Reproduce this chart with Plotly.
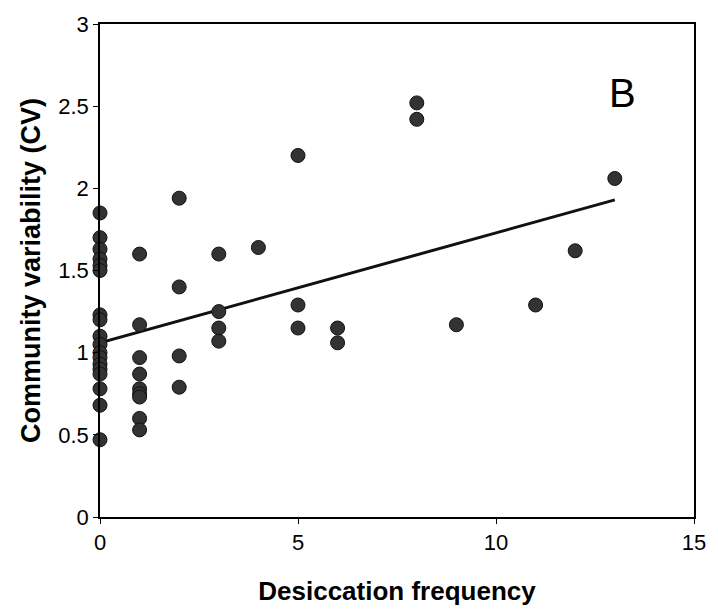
import plotly.graph_objects as go

# Data
x0_vals = [0]*18
y0_vals = [1.85, 1.70, 1.63, 1.57, 1.53, 1.50, 1.23, 1.20, 1.10, 1.05, 1.00, 0.97, 0.93, 0.90, 0.87, 0.78, 0.68, 0.47]
x1_vals = [1]*9
y1_vals = [1.60, 1.17, 0.97, 0.87, 0.78, 0.75, 0.73, 0.60, 0.53]
x_rest = [2, 2, 2, 2, 3, 3, 3, 3, 4, 5, 5, 5, 6, 6, 8, 8, 9, 11, 12, 13]
y_rest = [1.94, 1.40, 0.98, 0.79, 1.60, 1.25, 1.15, 1.07, 1.64, 2.20, 1.29, 1.15, 1.15, 1.06, 2.52, 2.42, 1.17, 1.29, 1.62, 2.06]

desiccation = x0_vals + x1_vals + x_rest
cv = y0_vals + y1_vals + y_rest

trend_x = [0, 13]
trend_y = [1.06, 1.93]

x_ticks = [0, 5, 10, 15]
y_ticks = [0, 0.5, 1, 1.5, 2, 2.5, 3]

FONT = "Arial, Liberation Sans, sans-serif"

fig = go.Figure()
fig.add_trace(go.Scatter(x=trend_x, y=trend_y, mode="lines",
                         line=dict(color="#111111", width=3), showlegend=False,
                         cliponaxis=False))
fig.add_trace(go.Scatter(x=desiccation, y=cv, mode="markers",
                         marker=dict(size=14, color="#333333",
                                     line=dict(color="#111111", width=1)),
                         showlegend=False, cliponaxis=False))

axis_common = dict(showgrid=False, zeroline=False, showline=True, linecolor="black",
                   linewidth=1.5, mirror=True, ticks="outside", ticklen=5,
                   tickcolor="black", tickfont=dict(family=FONT, size=22, color="black"))

fig.update_xaxes(range=[0, 15], tickvals=x_ticks, ticktext=[str(v) for v in x_ticks],
                 title=dict(text="<b>Desiccation frequency</b>",
                            font=dict(family=FONT, size=26, color="black"),
                            standoff=28),
                 **axis_common)
fig.update_yaxes(range=[0, 3], tickvals=y_ticks, ticktext=["0", "0.5", "1", "1.5", "2", "2.5", "3"],
                 title=dict(text="<b>Community variability (CV)</b>",
                            font=dict(family=FONT, size=27, color="black"),
                            standoff=10),
                 **axis_common)

fig.add_annotation(x=0.88, y=0.86, xref="paper", yref="paper", text="B", showarrow=False,
                   xanchor="center", yanchor="middle",
                   font=dict(family=FONT, size=40, color="black"))

fig.update_layout(width=718, height=613, plot_bgcolor="white", paper_bgcolor="white",
                  margin=dict(l=100, r=19, t=14, b=94))

fig.write_html("out.html")
